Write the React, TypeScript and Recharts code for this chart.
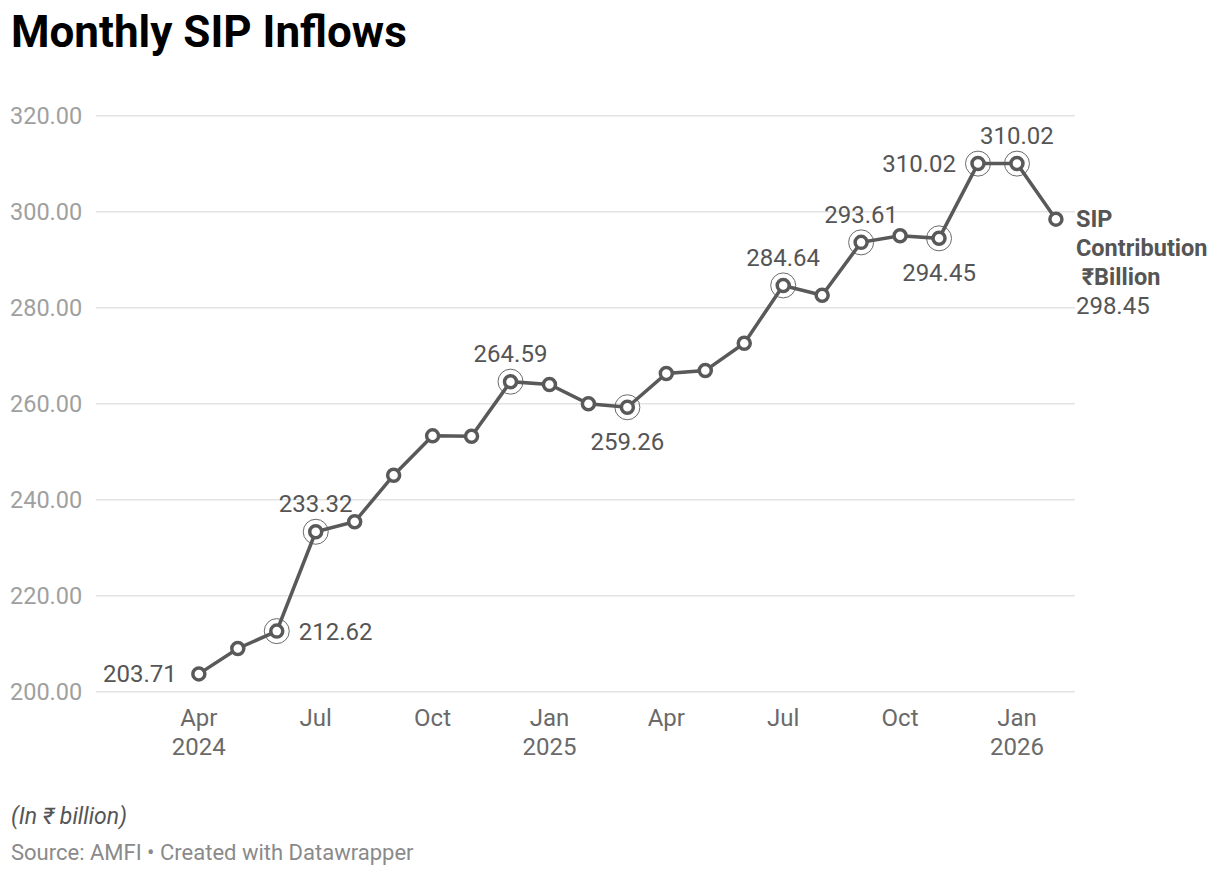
import React from 'react';
import { LineChart, Line, XAxis, YAxis, CartesianGrid, LabelList } from 'recharts';

// monthly SIP contribution, ₹ billion (Apr 2024 .. Feb 2026)
const months = [
  'Apr 2024', 'May 2024', 'Jun 2024', 'Jul 2024', 'Aug 2024', 'Sep 2024', 'Oct 2024', 'Nov 2024', 'Dec 2024',
  'Jan 2025', 'Feb 2025', 'Mar 2025', 'Apr 2025', 'May 2025', 'Jun 2025', 'Jul 2025', 'Aug 2025', 'Sep 2025',
  'Oct 2025', 'Nov 2025', 'Dec 2025', 'Jan 2026', 'Feb 2026',
];
const sipValues = [
  203.71, 209.0, 212.62, 233.32, 235.4, 245.1, 253.3, 253.2, 264.59,
  264.0, 260.0, 259.26, 266.3, 266.9, 272.6, 284.64, 282.6, 293.61,
  295.0, 294.45, 310.02, 310.02, 298.45,
];
const yTicks = [200, 220, 240, 260, 280, 300, 320];
const xTickIdx = [0, 3, 6, 9, 12, 15, 18, 21];
const xTickLabels = ['Apr|2024', 'Jul', 'Oct', 'Jan|2025', 'Apr', 'Jul', 'Oct', 'Jan|2026'];

// which points get a value label, and where it sits
const annotations: { [i: number]: 'left' | 'right' | 'top' | 'bottom' } = {
  0: 'left', 2: 'right', 3: 'top', 8: 'top', 11: 'bottom', 15: 'top',
  17: 'top', 19: 'bottom', 20: 'left', 21: 'top',
};
const halos = [2, 3, 8, 11, 15, 17, 19, 20, 21];

const data = sipValues.map((v, i) => ({ idx: i, month: months[i], value: v }));

const LINE = '#595959';
const FONT = 'Roboto, "Noto Sans", sans-serif';

const Dot = (props: any) => {
  const { cx, cy, index } = props;
  return (
    <g key={'d' + index}>
      {halos.includes(index) && <circle cx={cx} cy={cy} r={12.5} fill="none" stroke={LINE} strokeWidth={0.9} />}
      <circle cx={cx} cy={cy} r={6} fill="#fff" stroke={LINE} strokeWidth={3.5} />
    </g>
  );
};

const ValueLabel = (props: any) => {
  const { x, y, index, value } = props;
  if (index === sipValues.length - 1) {
    return (
      <text x={x + 20} y={y} fontFamily={FONT} fontSize={23.5} fill="#555">
        <tspan x={x + 20} dy="0.35em" fontWeight="bold">SIP</tspan>
        <tspan x={x + 20} dy={29} fontWeight="bold">Contribution</tspan>
        <tspan x={x + 20} dy={29} fontWeight="bold">{'\u00a0₹Billion'}</tspan>
        <tspan x={x + 20} dy={29} fontSize={24}>{Number(value).toFixed(2)}</tspan>
      </text>
    );
  }
  const pos = annotations[index];
  if (!pos) return null;
  let tx = x, ty = y, anchor: 'start' | 'middle' | 'end' = 'middle';
  if (pos === 'left') { tx = x - 22; anchor = 'end'; }
  if (pos === 'right') { tx = x + 22; anchor = 'start'; }
  if (pos === 'top') ty = y - 28;
  if (pos === 'bottom') ty = y + 34;
  return (
    <text x={tx} y={ty} dy="0.35em" textAnchor={anchor} fontFamily={FONT} fontSize={24} fill="#555">
      {Number(value).toFixed(2)}
    </text>
  );
};

const XTick = (props: any) => {
  const { x, y, payload } = props;
  const k = xTickIdx.indexOf(payload.value);
  const lines = (xTickLabels[k] || '').split('|');
  return (
    <text x={x} y={y} textAnchor="middle" fontFamily={FONT} fontSize={24} fill="#6a6a6a">
      {lines.map((l, i) => (
        <tspan key={i} x={x} dy={i === 0 ? 18 : 29} dominantBaseline="central">{l}</tspan>
      ))}
    </text>
  );
};

const YTick = (props: any) => {
  const { y, payload } = props;
  return (
    <text x={10} y={y} dy="0.35em" textAnchor="start" fontFamily={FONT} fontSize={23.5} fill="#a0a0a0">
      {Number(payload.value).toFixed(2)}
    </text>
  );
};

export default function App() {
  return (
    <div style={{ position: 'absolute', left: 0, top: 0, width: 1220, height: 876, background: '#fff', fontFamily: FONT }}>
      <svg width={1220} height={876} style={{ position: 'absolute', left: 0, top: 0 }}>
        <text x={11} y={47} fontFamily={FONT} fontSize={44} fontWeight="bold" fill="#000">Monthly SIP Inflows</text>
        <text x={11} y={824} fontFamily={FONT} fontSize={23} fontStyle="italic" fill="#555">(In ₹ billion)</text>
        <text x={11} y={860} fontFamily={FONT} fontSize={22} fill="#8a8a8a">Source: AMFI • Created with Datawrapper</text>
      </svg>
      <div style={{ position: 'absolute', left: 0, top: 0 }}>
        <LineChart width={1220} height={780} data={data} margin={{ top: 115.7, right: 145, bottom: 18.3, left: 0 }}>
          <CartesianGrid horizontal vertical={false} stroke="#e3e3e3" strokeWidth={1.5} />
          <XAxis
            dataKey="idx"
            type="number"
            domain={[-2.64, 22.49]}
            ticks={xTickIdx}
            tick={<XTick />}
            axisLine={false}
            tickLine={false}
            height={70}
            interval={0}
          />
          <YAxis
            domain={[200, 320]}
            ticks={yTicks}
            tick={<YTick />}
            axisLine={false}
            tickLine={false}
            width={96}
            interval={0}
          />
          <Line
            dataKey="value"
            stroke={LINE}
            strokeWidth={3.5}
            dot={<Dot />}
            activeDot={false}
            isAnimationActive={false}
          >
            <LabelList dataKey="value" content={<ValueLabel />} />
          </Line>
        </LineChart>
      </div>
    </div>
  );
}
